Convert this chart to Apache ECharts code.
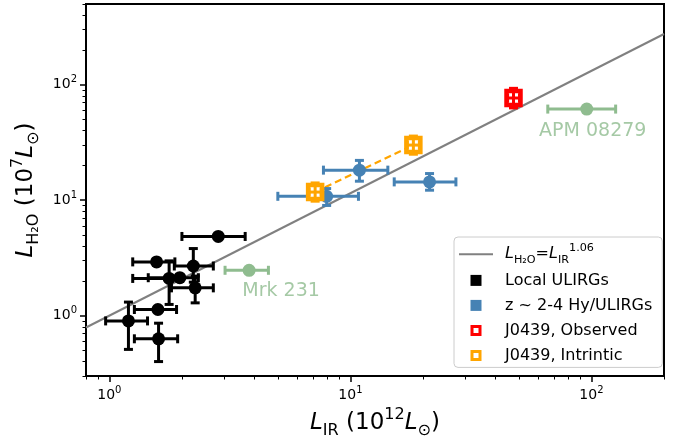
<!DOCTYPE html>
<html>
<head>
<meta charset="utf-8">
<script src="https://cdn.jsdelivr.net/npm/echarts@6/dist/echarts.min.js"></script>
<style>
  html, body { margin: 0; padding: 0; background: #fff; }
  #chart { width: 685px; height: 443px; }
</style>
</head>
<body>
<div id="chart"></div>
<script>
// x = L_IR (1e12 Lsun), y = L_H2O (1e7 Lsun); lo/hi are error bar ends
const localX   = [2.83, 1.57, 2.23, 1.77, 1.96, 2.27, 1.59, 1.20, 1.60];
const localY   = [4.85, 2.92, 2.69, 2.10, 2.13, 1.74, 1.13, 0.90, 0.63];
const localXLo = [2.00, 1.25, 1.86, 1.25, 1.45, 1.81, 1.27, 0.965, 1.27];
const localXHi = [3.66, 1.87, 2.70, 1.95, 2.34, 2.70, 1.90, 1.44, 1.92];
const localYLo = [4.85, 2.92, 1.95, 1.25, 2.13, 1.29, 1.13, 0.51, 0.40];
const localYHi = [4.85, 2.92, 3.81, 2.98, 2.13, 2.20, 1.13, 1.31, 0.86];

const hiZX   = [10.9, 21.3, 7.97];
const hiZY   = [18.2, 14.4, 10.8];
const hiZXLo = [7.73, 15.2, 5.0];
const hiZXHi = [14.3, 27.4, 10.8];
const hiZYLo = [14.6, 12.2, 9.0];
const hiZYHi = [22.1, 17.0, 12.6];

const greenNames = ['Mrk 231', 'APM 08279'];
const greenX   = [3.8, 95.6];
const greenY   = [2.47, 61.5];
const greenXLo = [3.02, 65.9];
const greenXHi = [4.57, 126];
const greenYLo = [2.47, 61.5];
const greenYHi = [2.47, 61.5];

const obsX = [47.5], obsY = [76.7];
const obsXLo = [44.9], obsXHi = [50.3], obsYLo = [63], obsYHi = [93];

const intrX = [7.14, 18.25], intrY = [11.75, 30.0];
const intrXLo = [6.74, 17.23], intrXHi = [7.56, 19.33];
const intrYLo = [9.8, 25.0], intrYHi = [14.1, 35.9];

const fitExp = 1.06;
const fitX = [0.8, 200];

const xMajor = [1, 10, 100];
const xMinor = [0.8, 0.9, 2, 3, 4, 5, 6, 7, 8, 9, 20, 30, 40, 50, 60, 70, 80, 90, 200];
const yMajor = [1, 10, 100];
const yMinor = [0.3, 0.4, 0.5, 0.6, 0.7, 0.8, 0.9, 2, 3, 4, 5, 6, 7, 8, 9,
                20, 30, 40, 50, 60, 70, 80, 90, 200, 300, 400, 500];
const tickExp = { 1: '0', 10: '1', 100: '2' };

const FONT = 'DejaVu Sans';

function rows(xs, ys, xlo, xhi, ylo, yhi) {
  return xs.map((x, i) => [x, ys[i], xlo[i], xhi[i], ylo[i], yhi[i]]);
}

// error bars + marker drawn in one custom item
function errorItem(color, marker) {
  return function (params, api) {
    const x = api.value(0), y = api.value(1);
    const p = api.coord([x, y]);
    const xl = api.coord([api.value(2), y])[0];
    const xr = api.coord([api.value(3), y])[0];
    const yb = api.coord([x, api.value(4)])[1];
    const yt = api.coord([x, api.value(5)])[1];
    const st = { stroke: color, lineWidth: 3 };
    const cap = 4.5;
    const kids = [];
    const seg = (x1, y1, x2, y2) => kids.push({ type: 'line', shape: { x1, y1, x2, y2 }, style: st });
    if (marker === 'square') {
      kids.push({ type: 'rect', shape: { x: p[0] - 7, y: p[1] - 7, width: 14, height: 14 },
        style: { fill: '#fff', stroke: color, lineWidth: 4.5 } });
    }
    if (xr - xl > 1) {
      seg(xl, p[1], xr, p[1]);
      seg(xl, p[1] - cap, xl, p[1] + cap);
      seg(xr, p[1] - cap, xr, p[1] + cap);
    }
    if (yb - yt > 1) {
      seg(p[0], yb, p[0], yt);
      seg(p[0] - cap, yb, p[0] + cap, yb);
      seg(p[0] - cap, yt, p[0] + cap, yt);
    }
    if (marker === 'circle') {
      kids.push({ type: 'circle', shape: { cx: p[0], cy: p[1], r: 6.5 }, style: { fill: color } });
    }
    return { type: 'group', children: kids };
  };
}

const mathRich = (size) => ({
  i: { fontStyle: 'italic', fontFamily: FONT, fontSize: size, lineHeight: size * 1.4, color: '#000' },
  sub: { fontFamily: FONT, fontSize: size * 0.7, lineHeight: size * 0.7, verticalAlign: 'bottom', color: '#000' },
  sup: { fontFamily: FONT, fontSize: size * 0.7, lineHeight: size * 0.7, verticalAlign: 'top', color: '#000' },
  n: { fontFamily: FONT, fontSize: size, lineHeight: size * 1.4, color: '#000' }
});

const sqIcon = 'path://M0,0H11V11H0Z';
const hollowIcon = 'path://M0,0H11V11H0Z M3,3V8H8V3Z';
const lineIcon = 'path://M0,0H34V2H0Z';

const fitData = fitX.map(x => [x, Math.pow(x, fitExp)]);

let chart = echarts.init(document.getElementById('chart'));

const frameLine = { show: true, lineStyle: { color: '#000', width: 2 } };
const baseXAxis = { type: 'log', logBase: 10, min: fitX[0], max: fitX[1], position: 'bottom', splitLine: { show: false }, minorTick: { show: false }, axisLine: frameLine };
const baseYAxis = { type: 'log', logBase: 10, min: 0.3, max: 500, position: 'left', splitLine: { show: false }, minorTick: { show: false }, axisLine: frameLine };

const tickLabel = {
  color: '#000',
  fontFamily: FONT,
  fontSize: 14,
  formatter: v => '{n|10}{sup|' + tickExp[Math.round(v)] + '}',
  rich: {
    n: { fontFamily: FONT, fontSize: 14, lineHeight: 20, color: '#000' },
    sup: { fontFamily: FONT, fontSize: 10, lineHeight: 10, verticalAlign: 'top', color: '#000' }
  }
};

let option = {
  animation: false,
  backgroundColor: '#fff',
  grid: {
    left: 86, right: 21, top: 4, bottom: 67, outerBoundsMode: 'none',
    show: true, borderColor: '#000', borderWidth: 2, backgroundColor: 'transparent'
  },
  xAxis: [
    Object.assign({}, baseXAxis, {
      axisTick: { show: true, inside: false, customValues: xMajor, length: 6, lineStyle: { color: '#000', width: 1.5 } },
      axisLabel: Object.assign({ customValues: xMajor, margin: 9 }, tickLabel),
      name: '{i|L}{sub|IR}{n| (10}{sup|12}{i|L}{sub|⊙}{n|)}',
      nameLocation: 'middle',
      nameGap: 30,
      nameTextStyle: { fontFamily: FONT, fontSize: 23, color: '#000', rich: mathRich(23) }
    }),
    Object.assign({}, baseXAxis, {
      axisTick: { show: true, inside: false, customValues: xMinor, length: 3.5, lineStyle: { color: '#000', width: 1 } },
      axisLabel: { show: false }
    })
  ],
  yAxis: [
    Object.assign({}, baseYAxis, {
      axisTick: { show: true, inside: false, customValues: yMajor, length: 6, lineStyle: { color: '#000', width: 1.5 } },
      axisLabel: Object.assign({ customValues: yMajor, margin: 9 }, tickLabel),
      name: '{i|L}{sub|H₂O}{n| (10}{sup|7}{i|L}{sub|⊙}{n|)}',
      nameLocation: 'middle',
      nameGap: 40,
      nameTextStyle: { fontFamily: FONT, fontSize: 23, color: '#000', rich: mathRich(23) }
    }),
    Object.assign({}, baseYAxis, {
      axisTick: { show: true, inside: false, customValues: yMinor, length: 3.5, lineStyle: { color: '#000', width: 1 } },
      axisLabel: { show: false }
    })
  ],
  legend: {
    orient: 'vertical',
    left: 454,
    top: 237,
    padding: [6, 10, 2, 5],
    itemWidth: 34,
    itemHeight: 11,
    itemGap: 5,
    selectedMode: false,
    backgroundColor: 'rgba(255,255,255,0.85)',
    borderColor: '#cccccc',
    borderWidth: 1,
    borderRadius: 4,
    symbolKeepAspect: true,
    textStyle: {
      fontFamily: FONT, fontSize: 16, color: '#000', lineHeight: 20, padding: [0, 0, 0, 7],
      rich: mathRich(16)
    },
    formatter: name => name === 'fit' ? '{i|L}{sub|H₂O}{n|=}{i|L}{sub|IR}{sup|1.06}' : name,
    data: [
      { name: 'fit', icon: lineIcon, itemStyle: { color: '#808080' } },
      { name: 'Local ULIRGs', icon: sqIcon, itemStyle: { color: '#000' } },
      { name: 'z ~ 2-4 Hy/ULIRGs', icon: sqIcon, itemStyle: { color: '#4682b4' } },
      { name: 'J0439, Observed', icon: hollowIcon, itemStyle: { color: '#ff0000' } },
      { name: 'J0439, Intrintic', icon: hollowIcon, itemStyle: { color: '#ffa500' } }
    ]
  },
  series: [
    {
      name: 'fit', type: 'line', data: fitData, showSymbol: false, silent: true, z: 1,
      itemStyle: { color: '#808080' }, lineStyle: { color: '#808080', width: 2 }
    },
    {
      name: 'Local ULIRGs', type: 'custom', z: 3, itemStyle: { color: '#000' },
      encode: { x: 0, y: 1 },
      renderItem: errorItem('#000', 'circle'),
      data: rows(localX, localY, localXLo, localXHi, localYLo, localYHi)
    },
    {
      name: 'z ~ 2-4 Hy/ULIRGs', type: 'custom', z: 3, itemStyle: { color: '#4682b4' },
      encode: { x: 0, y: 1 },
      renderItem: errorItem('#4682b4', 'circle'),
      data: rows(hiZX, hiZY, hiZXLo, hiZXHi, hiZYLo, hiZYHi)
    },
    {
      name: 'green', type: 'custom', z: 3, itemStyle: { color: '#8fbc8f' },
      encode: { x: 0, y: 1 },
      renderItem: errorItem('#8fbc8f', 'circle'),
      data: rows(greenX, greenY, greenXLo, greenXHi, greenYLo, greenYHi)
    },
    {
      name: 'green labels', type: 'scatter', symbolSize: 0, z: 4, silent: true,
      label: {
        show: true, position: 'inside', color: '#8fbc8f', fontFamily: FONT, fontSize: 19,
        formatter: p => greenNames[p.dataIndex]
      },
      data: greenX.map((x, i) => ({ value: [x, greenY[i]], label: { offset: i === 0 ? [32, 21] : [6, 22] } }))
    },
    {
      name: 'intrinsic link', type: 'line', z: 2, showSymbol: false, silent: true,
      data: intrX.map((x, i) => [x, intrY[i]]),
      lineStyle: { color: '#ffa500', width: 2.2, type: [7, 4] }
    },
    {
      name: 'J0439, Observed', type: 'custom', z: 5, itemStyle: { color: '#ff0000' },
      encode: { x: 0, y: 1 },
      renderItem: errorItem('#ff0000', 'square'),
      data: rows(obsX, obsY, obsXLo, obsXHi, obsYLo, obsYHi)
    },
    {
      name: 'J0439, Intrintic', type: 'custom', z: 5, itemStyle: { color: '#ffa500' },
      encode: { x: 0, y: 1 },
      renderItem: errorItem('#ffa500', 'square'),
      data: rows(intrX, intrY, intrXLo, intrXHi, intrYLo, intrYHi)
    }
  ]
};

chart.setOption(option);
</script>
</body>
</html>
